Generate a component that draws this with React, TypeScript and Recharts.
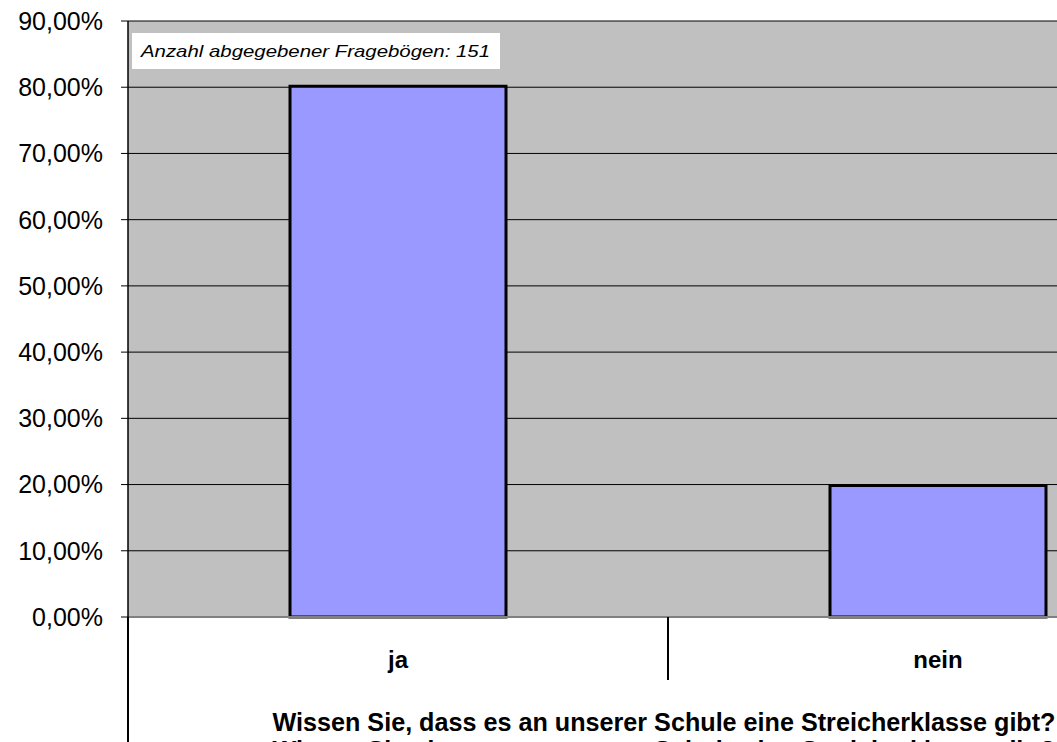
import { BarChart, Bar, XAxis, YAxis, CartesianGrid } from 'recharts';

const categories = ['ja', 'nein'];
const shares = [80.13, 19.87];
const yTicks = [0, 10, 20, 30, 40, 50, 60, 70, 80, 90];
const axisTitle = 'Wissen Sie, dass es an unserer Schule eine Streicherklasse gibt?';
const noteText = 'Anzahl abgegebener Fragebögen:  151';

const data = categories.map((name, i) => ({ name, value: shares[i] }));

const FONT = '"Liberation Sans", Arial, sans-serif';
const PLOT_LEFT = 128;
const BAND = 540;
const CHART_W = PLOT_LEFT + BAND * categories.length + 12;
const CHART_H = 760;

const fmtPct = (v: number) => v.toFixed(2).replace('.', ',') + '%';

// category label plus the boundary line on its left edge
function CategoryTick(props: any) {
  const { x, y, payload, index } = props;
  const left = x - BAND / 2;
  const len = index === 0 ? 160 : 63;
  return (
    <g>
      <line x1={left} y1={y} x2={left} y2={y + len} stroke="#000" strokeWidth={2} />
      <text x={x} y={y + 51} textAnchor="middle" fontFamily={FONT} fontWeight="bold" fontSize={24} fill="#000">
        {payload.value}
      </text>
    </g>
  );
}

export default function App() {
  return (
    <div style={{ position: 'fixed', left: 0, top: 0, width: 1057, height: 742, overflow: 'hidden', background: '#fff' }}>
      <BarChart
        width={CHART_W}
        height={CHART_H}
        data={data}
        margin={{ top: 21, right: 12, bottom: 0, left: 0 }}
        barCategoryGap="30%"
      >
        <CartesianGrid vertical={false} stroke="#000" fill="#C0C0C0" fillOpacity={1} />
        <XAxis
          dataKey="name"
          height={CHART_H - 617}
          axisLine={{ stroke: '#808080', strokeWidth: 2 }}
          tickLine={false}
          tickSize={0}
          tickMargin={0}
          tick={<CategoryTick />}
          interval={0}
        />
        <YAxis
          width={PLOT_LEFT}
          domain={[0, 90]}
          ticks={yTicks}
          tickFormatter={fmtPct}
          axisLine={{ stroke: '#000', strokeWidth: 1.5 }}
          tickLine={{ stroke: '#000' }}
          tickSize={7}
          tickMargin={18}
          tick={{ fontSize: 25, fill: '#000', fontFamily: FONT }}
          interval={0}
        />
        <Bar dataKey="value" fill="#9999FF" stroke="#000" strokeWidth={3} isAnimationActive={false} />
      </BarChart>
      <svg width={1057} height={742} style={{ position: 'absolute', left: 0, top: 0, pointerEvents: 'none' }}>
        <rect x={132} y={33} width={368} height={36} fill="#fff" />
        <text x={141} y={57} fontFamily={FONT} fontStyle="italic" fontSize={17} fill="#000" textLength={349} lengthAdjust="spacingAndGlyphs">
          {noteText}
        </text>
        <text x={664} y={731} textAnchor="middle" fontFamily={FONT} fontWeight="bold" fontSize={26} fill="#000" textLength={783} lengthAdjust="spacingAndGlyphs">
          {axisTitle}
        </text>
        <text x={664} y={759} textAnchor="middle" fontFamily={FONT} fontWeight="bold" fontSize={26} fill="#000" textLength={783} lengthAdjust="spacingAndGlyphs">
          {axisTitle}
        </text>
      </svg>
    </div>
  );
}
